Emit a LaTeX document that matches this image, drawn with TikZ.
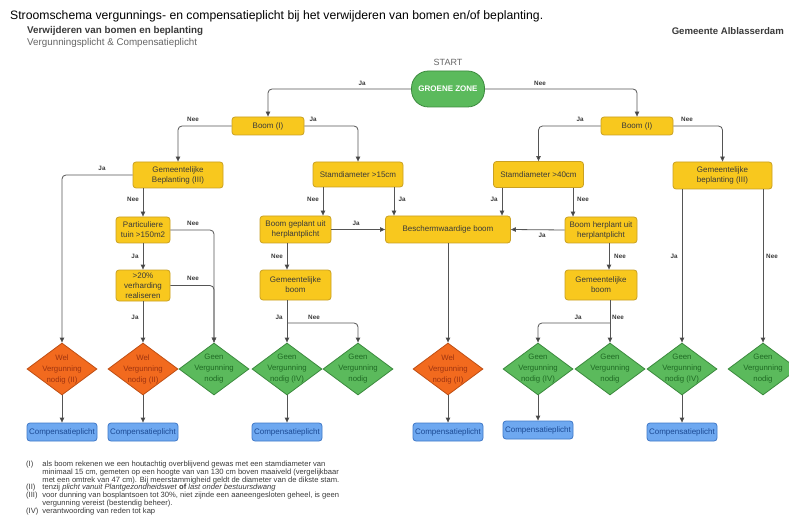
\documentclass[tikz,border=0pt]{standalone}
\usepackage{fontspec}
\setmainfont{Liberation Sans}
\usepackage{xcolor}
\usetikzlibrary{arrows.meta,positioning,shapes.geometric}
\definecolor{geel}{HTML}{F8C81E}
\definecolor{geelrand}{HTML}{C9A022}
\definecolor{oranje}{HTML}{F26A1E}
\definecolor{oranjerand}{HTML}{BF4F14}
\definecolor{oranjetekst}{HTML}{9E3410}
\definecolor{groen}{HTML}{5BBA5C}
\definecolor{groenrand}{HTML}{3C8A3E}
\definecolor{groentekst}{HTML}{1F6A24}
\definecolor{blauw}{HTML}{6EA8F0}
\definecolor{blauwrand}{HTML}{3F78C8}
\definecolor{blauwtekst}{HTML}{1C4A94}
\definecolor{lijn}{HTML}{555555}
\definecolor{kop}{HTML}{3A3A3A}
\newcommand{\fs}[2]{\fontsize{#1}{#2}\selectfont}

\tikzset{
  vraag/.style={draw=geelrand,fill=geel,rounded corners=3pt,line width=0.8pt,
    text=kop,font=\fs{8}{10},align=center,inner sep=0pt},
  besluit/.style={diamond,aspect=1.35,inner sep=-3pt,line width=0.8pt,
    minimum width=70pt,minimum height=52pt,font=\fs{7.8}{11},align=center},
  wel/.style={besluit,draw=oranjerand,fill=oranje,text=oranjetekst},
  geen/.style={besluit,draw=groenrand,fill=groen,text=groentekst},
  comp/.style={draw=blauwrand,fill=blauw,rounded corners=3pt,line width=0.8pt,
    text=blauwtekst,font=\fs{8}{10},minimum width=70pt,minimum height=18pt,inner sep=0pt},
  pijl/.style={draw=lijn,line width=0.8pt,rounded corners=4pt,
    -{Triangle[length=5pt,width=4.5pt,fill=kop]}},
  lbl/.style={font=\bfseries\fs{6.3}{7},text=kop,inner sep=0pt}
}

\begin{document}
\begin{tikzpicture}[x=1pt,y=-1pt]
  \useasboundingbox (0,0) rectangle (789,529);
  \fill[white] (0,0) rectangle (789,529);

  % koppen
  \node[anchor=west,inner sep=0pt,font=\fs{12.2}{14}] (titel) at (10,16)
    {Stroomschema vergunnings- en compensatieplicht bij het verwijderen van bomen en/of beplanting.};
  \node[anchor=west,inner sep=0pt,font=\bfseries\fs{9.8}{11},text=kop] (kop1) at (27,31)
    {Verwijderen van bomen en beplanting};
  \node[anchor=west,inner sep=0pt,font=\fs{9.8}{11},text=black!60] (kop2) at (27,43)
    {Vergunningsplicht \& Compensatieplicht};
  \node[anchor=east,inner sep=0pt,font=\bfseries\fs{9.6}{11},text=kop] (gemeente) at (784,31)
    {Gemeente Alblasserdam};
  \node[inner sep=0pt,font=\fs{9}{10},text=black!60] (startlbl) at (448,62) {START};

  % start
  \node[draw=groenrand,fill=groen,rounded corners=17pt,line width=0.8pt,
        minimum width=73pt,minimum height=36pt,inner sep=0pt,
        text=white,font=\bfseries\fs{8}{10}] (start) at (448,89) {GROENE ZONE};

  % vragen
  \node[vraag,minimum width=72pt,minimum height=18pt] (boomL) at (268,126) {Boom (I)};
  \node[vraag,minimum width=72pt,minimum height=18pt] (boomR) at (637,126) {Boom (I)};
  \node[vraag,minimum width=90pt,minimum height=26pt] (gbpL) at (178,175) {Gemeentelijke\\Beplanting (III)};
  \node[vraag,minimum width=90pt,minimum height=25pt] (sd15) at (358,174.5) {Stamdiameter >15cm};
  \node[vraag,minimum width=90pt,minimum height=26pt] (sd40) at (538.5,174.5) {Stamdiameter >40cm};
  \node[vraag,minimum width=99pt,minimum height=27pt] (gbpR) at (722.5,175.5) {Gemeentelijke\\beplanting (III)};
  \node[vraag,minimum width=54pt,minimum height=26pt] (part) at (143,230) {Particuliere\\tuin >150m2};
  \node[vraag,minimum width=54pt,minimum height=31pt] (verh) at (143,285.5) {>20\%\\verharding\\realiseren};
  \node[vraag,minimum width=71pt,minimum height=27pt] (geplant) at (295.5,229.5) {Boom geplant uit\\herplantplicht};
  \node[vraag,minimum width=71pt,minimum height=30pt] (gbL) at (295.5,285) {Gemeentelijke\\boom};
  \node[vraag,minimum width=125pt,minimum height=27pt] (besch) at (448,229.5) {Beschermwaardige boom};
  \node[vraag,minimum width=72pt,minimum height=26pt] (herplant) at (601,230) {Boom herplant uit\\herplantplicht};
  \node[vraag,minimum width=72pt,minimum height=30pt] (gbR) at (601,285) {Gemeentelijke\\boom};

  % besluiten
  \node[wel]  (d1)  at (62,369)  {Wel\\Vergunning\\nodig (II)};
  \node[wel]  (d2)  at (143,369) {Wel\\Vergunning\\nodig (II)};
  \node[geen] (d3)  at (214,369) {Geen\\Vergunning\\nodig};
  \node[geen] (d4)  at (287,369) {Geen\\Vergunning\\nodig (IV)};
  \node[geen] (d5)  at (358,369) {Geen\\Vergunning\\nodig};
  \node[wel]  (d6)  at (448,369) {Wel\\Vergunning\\nodig (II)};
  \node[geen] (d7)  at (538,369) {Geen\\Vergunning\\nodig (IV)};
  \node[geen] (d8)  at (610,369) {Geen\\Vergunning\\nodig};
  \node[geen] (d9)  at (682,369) {Geen\\Vergunning\\nodig (IV)};
  \node[geen] (d10) at (763,369) {Geen\\Vergunning\\nodig};

  % compensatie
  \foreach \d/\x/\y in {1/62/432,2/143/432,4/287/432,6/448/432,7/538/430,9/682/432}{
    \node[comp] (c\d) at (\x,\y) {Compensatieplicht};
    \draw[pijl] (d\d.south) -- (c\d.north);
  }

  % verbindingen
  \draw[pijl] (start.west) -| (boomL.north);
  \draw[pijl] (start.east) -| (boomR.north);
  \draw[pijl] (boomL.west) -| (gbpL.north);
  \draw[pijl] (boomL.east) -| (sd15.north);
  \draw[pijl] (boomR.west) -| (sd40.north);
  \draw[pijl] (boomR.east) -| (gbpR.north);
  \draw[pijl] (gbpL.west) -| (d1.north);
  \draw[pijl] (part.north |- gbpL.south) -- (part.north);
  \draw[pijl] (part.south) -- (verh.north);
  \draw[pijl] (verh.south) -- (d2.north);
  \draw[pijl] (part.east) -| (d3.north);
  \draw[pijl] (verh.east) -| (d3.north);
  \draw[pijl] (323,0 |- sd15.south) -- (323,0 |- geplant.north);
  \draw[pijl] (394,0 |- sd15.south) -- (394,0 |- besch.north);
  \draw[pijl] (502,0 |- sd40.south) -- (502,0 |- besch.north);
  \draw[pijl] (573,0 |- sd40.south) -- (573,0 |- herplant.north);
  \draw[pijl] (geplant.east) -- (besch.west);
  \draw[pijl] (herplant.west) -- (besch.east);
  \draw[pijl] (287,0 |- geplant.south) -- (287,0 |- gbL.north);
  \draw[pijl] (609,0 |- herplant.south) -- (609,0 |- gbR.north);
  \draw[pijl] (besch.south) -- (d6.north);
  \coordinate (splitL) at (287,323);
  \coordinate (splitR) at (610,323);
  \draw[pijl] (d4.north |- gbL.south) -- (d4.north);
  \draw[pijl] (splitL) -| (d5.north);
  \draw[pijl] (d8.north |- gbR.south) -- (d8.north);
  \draw[pijl] (splitR) -| (d7.north);
  \draw[pijl] (d9.north |- gbpR.south) -- (d9.north);
  \draw[pijl] (d10.north |- gbpR.south) -- (d10.north);

  % ja / nee
  \foreach \x/\y/\t [count=\i] in {362/83/Ja,540/83/Nee,193/119/Nee,313/119/Ja,
      580/119/Ja,687/119/Nee,102/168/Ja,133/199/Nee,193/223/Nee,135/256/Ja,
      193/278/Nee,135/317/Ja,313/199/Nee,402/199/Ja,494/199/Ja,583/199/Nee,
      356/223/Ja,542/235/Ja,277/256/Nee,620/256/Nee,279/317/Ja,314/317/Nee,
      578/317/Ja,618/317/Nee,674/256/Ja,772/256/Nee}
    \node[lbl] (lab\i) at (\x,\y) {\t};

  % voetnoten
  \node[anchor=base west,inner sep=0pt,font=\fs{7.6}{7.6},text=kop] (noten) at (26,466.5)
    {\begin{tabular}[t]{@{}l@{\hspace{4pt}}l@{}}
      (I) & als boom rekenen we een houtachtig overblijvend gewas met een stamdiameter van\\
          & minimaal 15 cm, gemeten op een hoogte van van 130 cm boven maaiveld (vergelijkbaar\\
          & met een omtrek van 47 cm). Bij meerstammigheid geldt de diameter van de dikste stam.\\
      (II) & tenzij \textit{plicht vanuit Plantgezondheidswet} \textbf{of} \textit{last onder bestuursdwang}\\
      (III) & voor dunning van bosplantsoen tot 30\%, niet zijnde een aaneengesloten geheel, is geen\\
            & vergunning vereist (bestendig beheer).\\
      (IV) & verantwoording van reden tot kap
    \end{tabular}};
\end{tikzpicture}
\end{document}
